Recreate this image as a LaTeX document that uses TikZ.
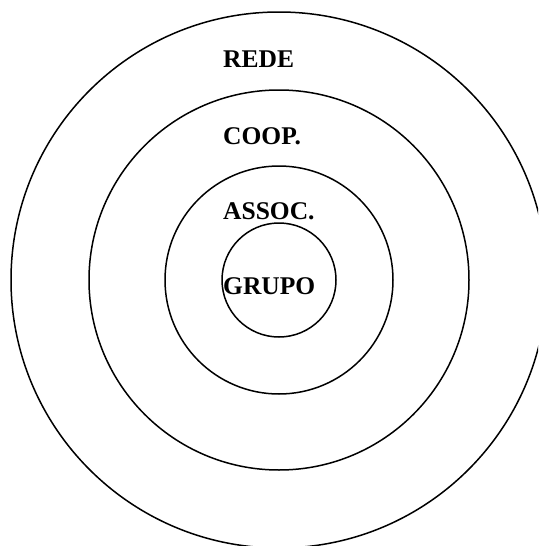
\documentclass[tikz,border=0pt]{standalone}
\usepackage{fontspec}
\setmainfont{Liberation Serif}
\usepackage{tikz}

\tikzset{
  nivel/.style={anchor=base west, inner sep=0pt, font=\fontsize{25.5}{30}\selectfont\bfseries}
}

\begin{document}
\begin{tikzpicture}[x=1pt, y=-1pt]
		
		% Marco de la figura
		\useasboundingbox (0,0) rectangle (538,546);
		\clip (0,0) rectangle (538,546);
		\coordinate (centro) at (279,280);
		
		% Dibujar los círculos concéntricos
		\foreach \r in {57,114,190,268} {
			\draw[line width=1.5pt] (centro) circle (\r pt);
		}
		
		% Etiquetar los niveles
		\node[nivel] (rede) at (223,67.5) {REDE};
		\node[nivel] (coop) at (223,144) {COOP.};
		\node[nivel] (assoc) at (223,219) {ASSOC.};
		\node[nivel] (grupo) at (223,294) {GRUPO};
		
		\end{tikzpicture}
\end{document}
